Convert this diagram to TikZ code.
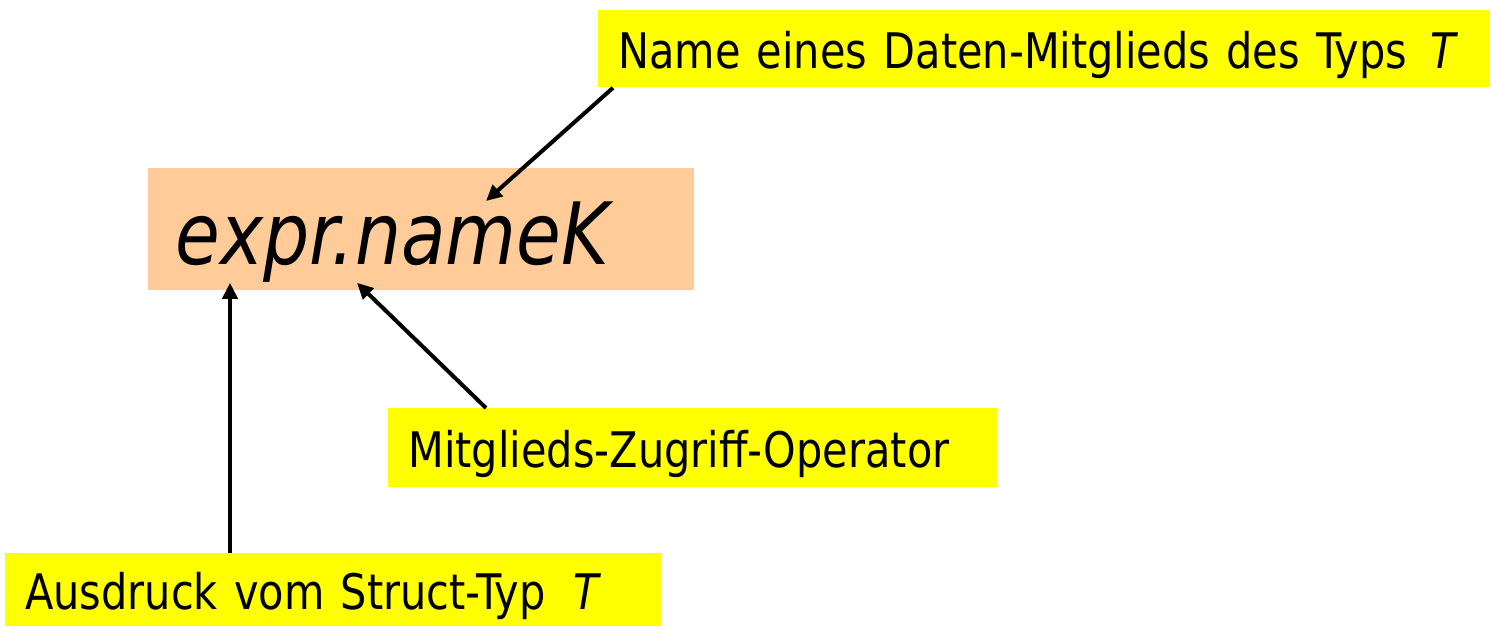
\documentclass[tikz,border=0pt]{standalone}
\usepackage{fontspec}
\setmainfont[FakeStretch=0.94]{DejaVu Sans Condensed}
\usetikzlibrary{arrows.meta,calc}
\definecolor{hiyellow}{HTML}{FFFF00}
\definecolor{peach}{HTML}{FFCC99}

\begin{document}
\begin{tikzpicture}[
    x=0.5pt, y=-0.5pt,
    note/.style = {
      fill=hiyellow, anchor=north west, inner xsep=10pt, inner ysep=0pt,
      align=left, text height=20pt, text depth=0pt,
      font=\fontsize{24.5pt}{29pt}\selectfont,
    },
    code/.style = {
      fill=peach, anchor=north west, inner xsep=13.5pt, inner ysep=0pt,
      align=left, text height=35pt, text depth=0pt,
      font=\fontsize{43pt}{50pt}\selectfont\itshape,
    },
    pointer/.style = {
      black, line width=2pt, -{Triangle[length=8pt,width=7.5pt]},
    },
  ]
  \useasboundingbox (0,0) rectangle (1492,626);
  \node[code, text width=246pt, minimum height=61pt] (Expr) at (148,168) {expr.nameK};
  \node[note, text width=426pt, minimum height=38.5pt] (MemberName) at (598,10)
    {Name eines Daten-Mitglieds des Typs\hspace{12pt}\textit{T}};
  \node[note, text width=284.5pt, minimum height=39.5pt] (Operator) at (388,408)
    {Mitglieds-Zugriff-Operator};
  \node[note, text width=308pt, minimum height=36.5pt] (StructExpr) at (5,553)
    {Ausdruck vom Struct-Typ\hspace{14pt}\textit{T}};
  % pointers into the expression
  \draw[pointer] ($(MemberName.south west)+(15,0)$) -- ($(Expr.north west)+(338,33)$);
  \draw[pointer] ($(Operator.north west)+(98,0)$) -- ($(Expr.south west)+(209,-8)$);
  \draw[pointer] ($(StructExpr.north west)+(225,0)$) -- ($(Expr.south west)+(82,-8)$);
\end{tikzpicture}
\end{document}
